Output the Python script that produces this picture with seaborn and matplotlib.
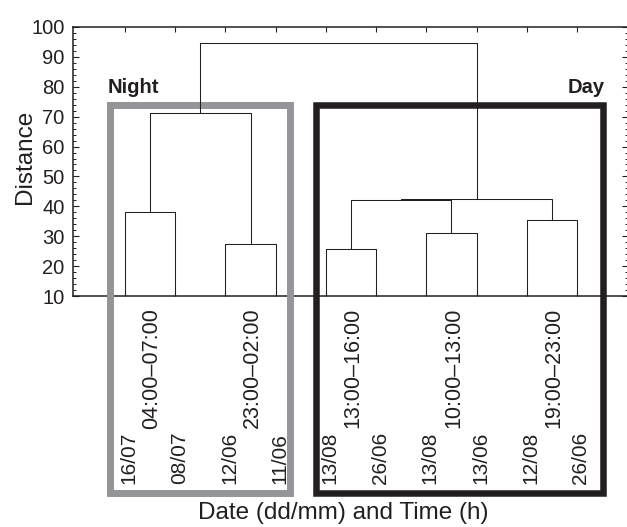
import numpy as np
import pandas as pd
import seaborn as sns
import matplotlib.pyplot as plt
from matplotlib.patches import Rectangle
from matplotlib.ticker import MultipleLocator

sns.set_theme(style="ticks")
plt.rcParams["font.family"] = ["Liberation Sans", "DejaVu Sans"]

INK = "#231f20"
GREY = "#939598"

# leaves, left to right
leaf_dates = ["16/07", "08/07", "12/06", "11/06", "13/08",
              "26/06", "13/08", "13/06", "12/08", "26/06"]
pair_times = ["04:00–07:00", "23:00–02:00", "13:00–16:00",
              "10:00–13:00", "19:00–23:00"]

# linkage: node ids 0-9 are leaves, each merge creates node 10, 11, ...
merge_left = [0, 2, 4, 6, 8, 10, 12, 16, 15]
merge_right = [1, 3, 5, 7, 9, 11, 13, 14, 17]
merge_height = [38.2, 27.5, 25.6, 31.0, 35.3, 71.3, 42.1, 42.5, 94.8]

n = len(leaf_dates)
pos = {i: float(i + 1) for i in range(n)}
hgt = {i: 0.0 for i in range(n)}
rows = []
for k, (a, b, h) in enumerate(zip(merge_left, merge_right, merge_height)):
    xs = [pos[a], pos[a], pos[b], pos[b]]
    ys = [hgt[a], h, h, hgt[b]]
    for x, y in zip(xs, ys):
        rows.append({"link": k, "x": x, "y": y})
    pos[n + k] = (pos[a] + pos[b]) / 2
    hgt[n + k] = h
links = pd.DataFrame(rows)

fig = plt.figure(figsize=(6.27, 5.27), dpi=100)
ax = fig.add_axes([73 / 627, 1 - 296 / 527, 554.5 / 627, 269 / 527])

sns.lineplot(data=links, x="x", y="y", units="link", estimator=None,
             sort=False, color=INK, lw=0.75, ax=ax, zorder=4)

ax.set_xlim(-0.035, 11.006)
ax.set_ylim(10, 100)
ax.set_xticks(np.arange(1, n + 1))
ax.set_xticklabels([])
ax.set_yticks(np.arange(10, 101, 10))
ax.yaxis.set_minor_locator(MultipleLocator(2))
ax.tick_params(axis="x", direction="in", top=True, bottom=True,
               length=3.6, width=0.8, color=INK)
ax.tick_params(axis="y", which="major", direction="in", left=True, right=True,
               length=4, width=0.8, color=INK, labelsize=14.5, labelcolor=INK, pad=6)
ax.tick_params(axis="y", which="minor", direction="in", left=True, right=True,
               length=2.4, width=0.7, color=INK)
for s in ax.spines.values():
    s.set_color(INK)
    s.set_linewidth(1.1)
ax.set_xlabel("")
ax.set_ylabel("")

# group boxes
ax.add_patch(Rectangle((0.711, -55.9), 4.276 - 0.711, 73.9 + 55.9, fill=False,
                       ec=GREY, lw=5, clip_on=False, zorder=3, joinstyle="miter"))
ax.add_patch(Rectangle((4.809, -55.9), 10.512 - 4.809, 73.9 + 55.9, fill=False,
                       ec=INK, lw=4.7, clip_on=False, zorder=3, joinstyle="miter"))

ax.text(0.66, 77.9, "Night", fontsize=14.5, fontweight="bold", color=INK,
        ha="left", va="baseline")
ax.text(10.558, 77.9, "Day", fontsize=14.5, fontweight="bold", color=INK,
        ha="right", va="baseline")

for i, d in enumerate(leaf_dates):
    ax.text(i + 1 + 0.08, -52.9, d, rotation=90, fontsize=15, color=INK,
            ha="center", va="bottom", clip_on=False)
for j, t in enumerate(pair_times):
    ax.text(2 * j + 1.5 + 0.04, 6.1, t, rotation=90, fontsize=15.5, color=INK,
            ha="center", va="top", clip_on=False)

fig.text(343 / 627, 1 - 519 / 527, "Date (dd/mm) and Time (h)", fontsize=17.5,
         color=INK, ha="center", va="baseline")
fig.text(25.5 / 627, 1 - 157 / 527, "Distance", fontsize=17.5, color=INK,
         rotation=90, ha="center", va="center")

fig.savefig("out.png", dpi=100)
